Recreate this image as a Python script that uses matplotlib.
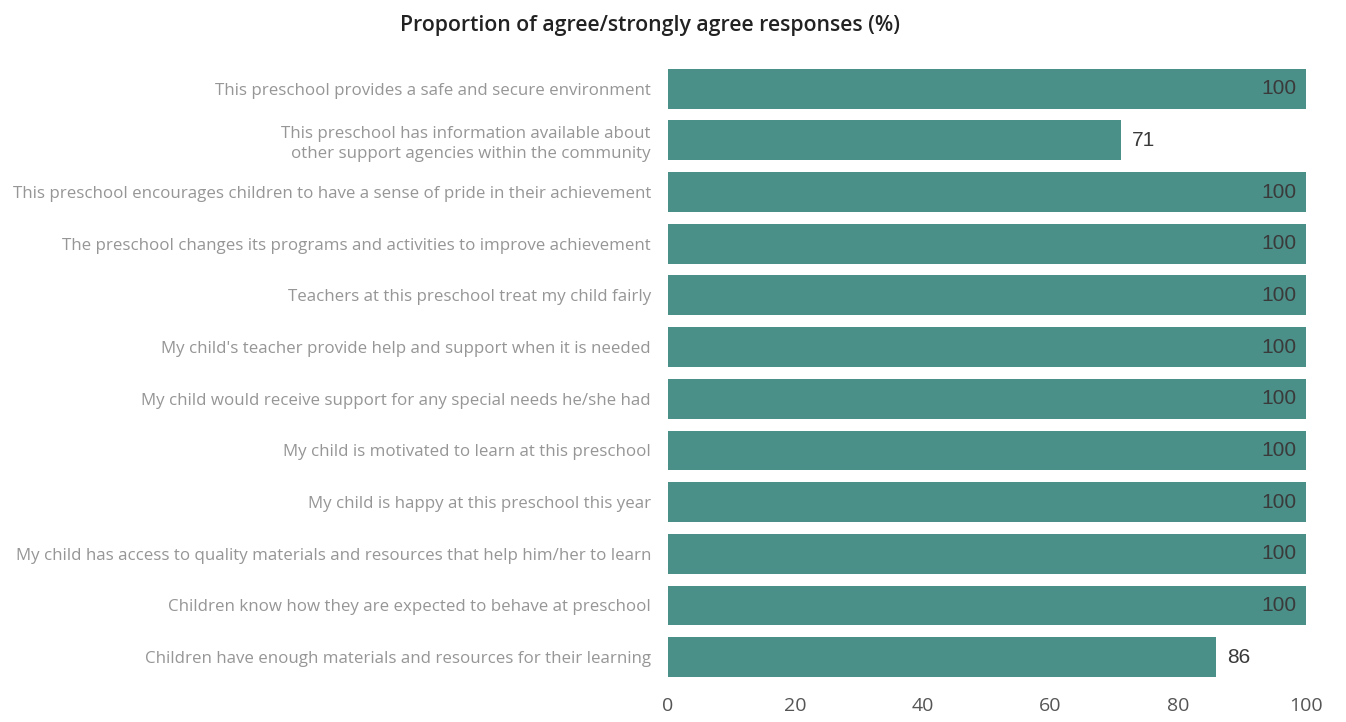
import matplotlib
matplotlib.use("Agg")
import matplotlib.pyplot as plt

plt.rcParams['font.family'] = ['Open Sans', 'DejaVu Sans']

labels = [
    "This preschool provides a safe and secure environment",
    "This preschool has information available about\nother support agencies within the community",
    "This preschool encourages children to have a sense of pride in their achievement",
    "The preschool changes its programs and activities to improve achievement",
    "Teachers at this preschool treat my child fairly",
    "My child's teacher provide help and support when it is needed",
    "My child would receive support for any special needs he/she had",
    "My child is motivated to learn at this preschool",
    "My child is happy at this preschool this year",
    "My child has access to quality materials and resources that help him/her to learn",
    "Children know how they are expected to behave at preschool",
    "Children have enough materials and resources for their learning",
]
values = [100, 71, 100, 100, 100, 100, 100, 100, 100, 100, 100, 86]
ticks = [0, 20, 40, 60, 80, 100]

bar_color = '#4b8f89'
label_color = '#969696'

fig = plt.figure(figsize=(13.46, 7.22), dpi=100)
ax = fig.add_axes([0.496, 0.054, 0.474, 0.859])

pos = list(range(len(labels)))
ax.barh(pos, values, height=0.77, color=bar_color)
ax.set_ylim(len(labels) - 0.5, -0.5)
ax.set_xlim(0, 100)

ax.set_yticks(pos)
ax.set_yticklabels(labels, fontsize=12.2, color=label_color, linespacing=1.3)
ax.set_xticks(ticks)
ax.set_xticklabels([str(t) for t in ticks], fontsize=14, color='#555555')
ax.tick_params(axis='both', length=0)
ax.tick_params(axis='y', pad=12)
ax.tick_params(axis='x', pad=10)
for s in ax.spines.values():
    s.set_visible(False)

# value labels: inside the bar for full bars, just past the end otherwise
for p, v in zip(pos, values):
    if v >= 100:
        ax.text(v - 1.4, p, str(v), ha='right', va='center', fontsize=15,
                color='#3a3a3a', family=['Liberation Sans', 'DejaVu Sans'])
    else:
        ax.text(v + 1.7, p, str(v), ha='left', va='center', fontsize=15,
                color='#3a3a3a', family=['Liberation Sans', 'DejaVu Sans'])

fig.text(0.483, 0.965, "Proportion of agree/strongly agree responses (%)",
         ha='center', va='center', fontsize=15.3, color='#222222', weight='semibold')

fig.savefig('out.png', dpi=100)
